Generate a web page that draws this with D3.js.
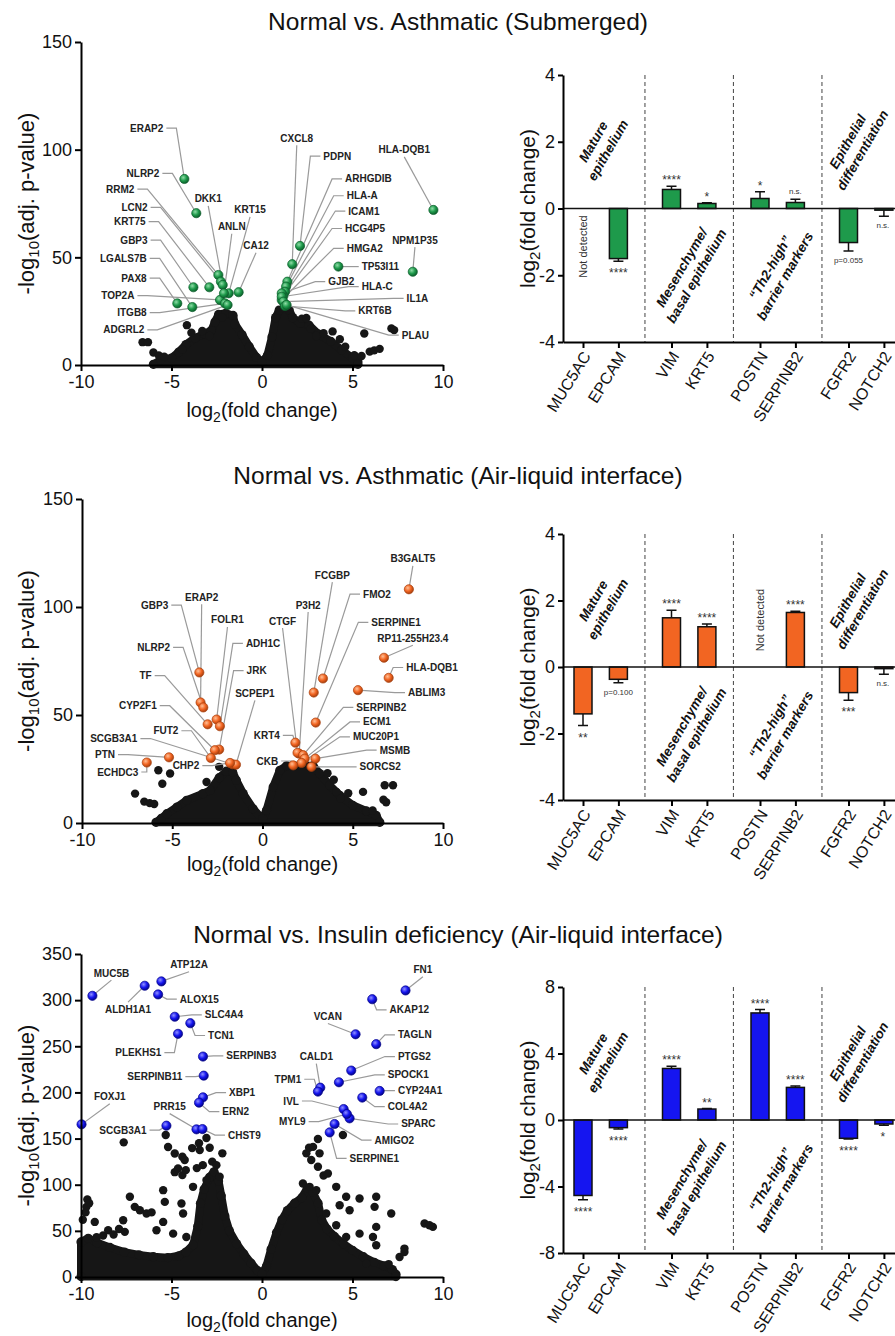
<!DOCTYPE html>
<html>
<head>
<meta charset="utf-8">
<title>Normal vs. asthmatic / insulin deficiency</title>
<script src="https://cdn.jsdelivr.net/npm/d3@7"></script>
<style>
  body { margin: 0; background: #fff; }
  svg { display: block; font-family: "Liberation Sans", Arial, Helvetica, sans-serif; }
</style>
</head>
<body>
<svg id="fig" width="895" height="1336"></svg>
<script>
// ---------- values ----------
var panelTitles = ["Normal vs. Asthmatic (Submerged)",
                   "Normal vs. Asthmatic (Air-liquid interface)",
                   "Normal vs. Insulin deficiency (Air-liquid interface)"];

var volcanoXTicks = [-10, -5, 0, 5, 10];
var volcanoYTicksA = [0, 50, 100, 150];
var volcanoYTicksB = [0, 50, 100, 150, 200, 250, 300, 350];
var barTicksA = [-4, -2, 0, 2, 4];
var barTicksB = [-8, -4, 0, 4, 8];

var categories = ["MUC5AC", "EPCAM", "VIM", "KRT5", "POSTN", "SERPINB2", "FGFR2", "NOTCH2"];
var catGroup = [0, 0, 1, 1, 2, 2, 3, 3];
var groupNames = [["Mature", "epithelium"], ["Mesenchyme/", "basal epithelium"],
                  ["\u201cTh2-high\u201d", "barrier markers"], ["Epithelial", "differentiation"]];

// bar panels: log2 fold change, error, annotation
var subFold = [null, -1.50, 0.57, 0.15, 0.30, 0.18, -1.02, -0.05];
var subErr  = [0, 0.08, 0.10, 0.02, 0.20, 0.10, 0.25, 0.18];
var subSig  = ["Not detected", "****", "****", "*", "*", "n.s.", "p=0.055", "n.s."];

var aliFold = [-1.41, -0.37, 1.48, 1.21, null, 1.64, -0.77, -0.05];
var aliErr  = [0.35, 0.10, 0.23, 0.08, 0, 0.04, 0.23, 0.17];
var aliSig  = ["**", "p=0.100", "****", "****", "Not detected", "****", "***", "n.s."];

var insFold = [-4.54, -0.46, 3.10, 0.66, 6.44, 1.96, -1.10, -0.24];
var insErr  = [0.26, 0.08, 0.14, 0.03, 0.20, 0.08, 0.04, 0.08];
var insSig  = ["****", "****", "****", "**", "****", "****", "****", "*"];

// volcano 1 (submerged): dense core outline, loose dots, highlighted genes
var subCore = [[-6.0,0.3],[-5.6,2.3],[-5.0,3.2],[-4.6,6],[-4.2,9.5],[-3.7,12.5],[-3.2,14.5],[-2.8,16],[-2.6,20],
  [-2.4,23.5],[-2.0,24],[-1.6,23],[-1.5,19],[-1.1,14],[-0.7,8.5],[-0.3,3.5],[0,1.2],[0.3,4.5],[0.55,13],[0.75,22],
  [0.95,25.5],[1.5,25.5],[1.7,22],[2.1,19.5],[2.6,18.5],[3.1,14.5],[3.8,11],[4.4,7],[5.0,3.2],[5.3,1.5],[5.3,0.3]];
var subDots = [[-6.6,10.6],[-6.3,10.6],[-6.0,5.8],[-5.7,4.4],[-5.4,3.8],[-4.4,7.2],[-4.15,18.5],[-3.9,15],[-3.3,15.8],
  [-2.9,13.5],[-2.2,22.2],[2.2,21.5],[2.45,21.8],[2.7,16.8],[3.0,13.5],[3.4,14.8],[3.9,15.6],[4.3,12],[4.6,8.5],
  [5.1,4.5],[5.5,4.2],[5.65,14.6],[5.95,6.2],[6.2,6.8],[6.5,7.5],[7.15,17],[7.3,16.2]];
var subGenes = [["ERAP2",-4.29,86.4],["NLRP2",-3.63,70.5],["RRM2",-2.41,41.8],["LCN2",-2.27,38.7],["KRT75",-2.91,36.1],
  ["GBP3",-3.79,36.1],["LGALS7B",-3.85,26.9],["PAX8",-4.68,28.6],["TOP2A",-2.32,30.2],["ITGB8",-2.04,28.6],
  ["ADGRL2",-1.9,27.9],["DKK1",-2.17,37.2],["KRT15",-1.84,33.3],["ANLN",-2.1,33.3],["CA12",-1.29,33.8],
  ["CXCL8",1.67,46.8],["PDPN",2.1,55.3],["ARHGDIB",1.4,38.7],["HLA-A",1.33,36.4],["ICAM1",1.27,34],
  ["HCG4P5",1.18,32],["HMGA2",1.09,30.2],["TP53I11",4.22,45.7],["NPM1P35",8.33,43.3],["HLA-DQB1",9.47,72],
  ["GJB2",1.09,33.3],["HLA-C",1.09,31.7],["IL1A",1.18,29.4],["KRT6B",1.27,27.4],["PLAU",1.36,27.9]];
var subLabels = [[-5.45,110,"l"],[-5.67,89,"l"],[-7.05,81.7,"l"],[-6.32,73.2,"l"],[-6.43,66.6,"l"],
  [-6.32,58,"l"],[-6.37,49.5,"l"],[-6.37,40.3,"l"],[-7.05,32.2,"l"],[-6.37,24.3,"l"],
  [-6.5,16.3,"l"],[-2.97,77.1,"c"],[-0.66,72,"c"],[-1.67,64.2,"c"],[-0.33,55.4,"c"],
  [1.92,105.3,"c"],[3.39,97,"r"],[4.59,86.4,"r"],[4.68,78.6,"r"],[4.77,71.5,"r"],
  [4.59,63.4,"r"],[4.68,54.2,"r"],[5.51,45.7,"r"],[8.45,58,"c"],[7.86,99.9,"c"],
  [3.66,38.7,"r"],[5.51,36.4,"r"],[7.99,30.9,"r"],[5.32,25.1,"r"],[7.72,13.9,"r"]];

// volcano 2 (air-liquid interface, asthmatic)
var aliCore = [[-5.9,0.3],[-5.6,2.2],[-5.3,4.3],[-4.74,7.4],[-4.2,10.5],[-3.3,13.6],[-2.9,15.1],[-2.4,21],[-2.0,24],
  [-1.65,23.5],[-1.45,19.8],[-1.07,13.6],[-0.52,6.6],[0,1.8],[0.22,5.9],[0.59,16.7],[0.96,24.4],[1.33,26.5],
  [2.8,26.5],[3.17,22.9],[3.72,17.5],[4.28,12.8],[5.0,8.2],[5.75,5.6],[6.3,3.5],[6.5,0.3]];
var aliDots = [[-7.06,13.6],[-6.55,9.9],[-6.25,9.2],[-6.0,8.8],[-5.77,24.4],[-5.55,18.2],[-5.12,22.9],[-3.1,19],
  [-2.4,26],[3.6,23],[3.95,20],[4.1,14.4],[4.33,11.3],[4.75,13.8],[5.57,14.4],[5.75,5.4],[6.1,5.8],
  [6.77,17.5],[7.23,17.5],[6.7,10.8],[6.85,9.6]];
var aliGenes = [["GBP3",-3.5,69.7],["ERAP2",-3.43,55.8],["NLRP2",-3.28,53.5],["TF",-3.04,45.7],["FOLR1",-2.54,47.9],
  ["ADH1C",-2.36,44.8],["JRK",-2.4,34],["CYP2F1",-2.64,33.7],["FUT2",-2.86,30.1],["SCGB3A1",-1.66,27.2],
  ["PTN",-5.18,30.4],["ECHDC3",-6.41,28],["SCPEP1",-1.47,27],["CHP2",-1.8,27.8],
  ["B3GALT5",8.11,108.2],["FCGBP",2.84,60.4],["FMO2",3.35,66.9],["P3H2",2.03,32.1],["CTGF",1.94,32.5],
  ["SERPINE1",2.95,46.5],["RP11-255H23.4",6.73,76.5],["HLA-DQB1",6.99,67.2],["ABLIM3",5.29,61.5],
  ["SERPINB2",2.25,31.4],["ECM1",2.34,29.8],["MUC20P1",2.16,27.8],["MSMB",2.93,29.8],["KRT4",1.82,37.2],
  ["CKB",1.7,26.7],["SORCS2",2.71,26]];
var aliLabels = [[-5.22,100.9,"l"],[-3.37,104.5,"c"],[-5.12,81.3,"l"],[-6.14,68.2,"l"],[-1.94,94,"c"],
  [-0.92,83.2,"r"],[-0.88,70.5,"r"],[-5.86,54.3,"l"],[-4.66,42.7,"l"],[-6.93,39.1,"l"],
  [-8.17,31.7,"l"],[-6.88,23.6,"l"],[-0.42,60,"c"],[-3.5,26.6,"l"],
  [8.33,122.3,"c"],[3.87,114.8,"c"],[5.57,106,"r"],[2.53,100.9,"c"],[1.11,93.5,"c"],
  [6.03,92.9,"r"],[8.33,85.5,"c"],[7.96,72,"r"],[8.06,60.4,"r"],
  [5.2,53.5,"r"],[5.57,46.8,"r"],[5.01,39.9,"r"],[6.49,33.7,"r"],[0.96,40.6,"l"],
  [0.87,28.7,"l"],[5.38,26,"r"]];

// volcano 3 (insulin deficiency)
var insCore = [[-10,0.5],[-10,38],[-9.6,42],[-9.1,37],[-8.4,32],[-7.6,27],[-6.8,24],[-6.0,22],[-5.2,21],[-4.6,23],
  [-4.2,27],[-3.8,35],[-3.55,55],[-3.4,80],[-3.2,95],[-2.9,108],[-2.65,114],[-2.4,104],[-2.25,88],[-2.05,66],
  [-1.8,50],[-1.4,36],[-1.0,25],[-0.6,15],[-0.25,7],[0,3.5],[0.25,12],[0.5,30],[0.8,48],[1.1,62],[1.4,72],
  [1.8,80],[2.2,86],[2.5,96],[2.8,92],[3.1,80],[3.3,62],[3.6,52],[4.0,44],[4.5,36],[5.0,29],[5.6,22],[6.2,16],
  [6.8,12],[7.2,8],[7.4,3],[7.4,0.5]];
var insDots = [[-9.9,62],[-9.75,70],[-9.7,76],[-9.65,84],[-9.55,80],[-9.24,59.7],[-9.14,43],[-8.78,45],[-8.5,50.7],
  [-8.2,46],[-7.9,52],[-7.67,61.5],[-7.58,48.9],[-7.64,145.9],[-7.3,86.9],[-7.03,76],[-6.75,72.4],[-6.38,68.8],
  [-6.1,70],[-5.83,50.7],[-5.46,59.7],[-5.37,81.4],[-5.46,94.1],[-5.32,153.8],[-5.19,140.8],[-4.91,47],
  [-4.82,133.9],[-4.82,113.6],[-4.64,117.6],[-4.45,79.6],[-4.4,130.3],[-4.4,110.4],[-4.36,68.8],[-4.27,126.7],
  [-4.21,115.8],[-4.18,43.4],[-3.86,139.7],[-3.81,97.7],[-3.6,118],[-3.48,145],[-3.44,137.5],[-3.27,121.2],
  [-3.07,150.6],[-3.07,105],[-2.89,140],[-2.75,125],[-2.52,121.2],[-2.34,108.6],[-2.19,134],
  [2.26,101.3],[2.45,134],[2.6,140],[2.63,97.7],[2.72,126.7],[2.82,141],[3.0,94],[3.09,119.4],[3.09,149.5],
  [3.18,134],[3.4,110],[3.55,68.8],[3.64,112.2],[4.1,97.7],[4.1,56.1],[4.29,77.8],[4.47,153.8],[4.65,86.9],
  [4.65,43.4],[4.84,72.4],[5.39,85],[5.39,47],[5.76,14.5],[6.13,43.4],[6.22,76],[6.31,86.9],[6.31,54.3],
  [6.31,34.4],[6.7,12],[7.0,14],[7.14,68.8],[7.6,21.7],[7.87,27.1],[7.87,30.8],[8.98,57.9],[9.25,56.1],[9.44,54.3]];
var insGenes = [["MUC5B",-9.37,304.7],["ATP12A",-5.56,320.3],["ALDH1A1",-6.48,315.6],["ALOX15",-5.74,306.2],
  ["SLC4A4",-4.82,282],["TCN1",-3.96,275],["PLEKHS1",-4.64,263.5],["SERPINB3",-3.26,238.9],
  ["SERPINB11",-3.22,218.2],["XBP1",-3.26,194.7],["ERN2",-3.48,188.9],["PRR15",-3.62,160],["CHST9",-3.29,160.3],
  ["SCGB3A1",-5.28,164],["FOXJ1",-9.97,165.4],
  ["FN1",7.93,310.5],["AKAP12",6.09,301],["VCAN",5.17,263],["TAGLN",6.31,252.3],["PTGS2",4.93,223.7],
  ["SPOCK1",4.25,211],["CALD1",3.22,205.2],["TPM1",3.09,200.9],["CYP24A1",6.5,201.6],["COL4A2",5.54,194.4],
  ["IVL",4.51,182],["SPARC",4.84,171.9],["MYL9",4.69,176.6],["AMIGO2",4.01,165.8],["SERPINE1",3.74,156.7]];
var insLabels = [[-8.32,329.3,"c"],[-4.03,338.4,"c"],[-7.4,290.3,"b"],[-4.54,301.1,"r"],
  [-3.16,284.1,"r"],[-2.98,261.7,"r"],[-5.56,243.2,"l"],[-1.97,239.6,"r"],
  [-4.4,217.2,"l"],[-1.82,199.8,"r"],[-2.19,179.2,"r"],[-5.1,184.6,"c"],[-1.88,153.8,"r"],
  [-6.38,159.2,"l"],[-8.41,195.4,"c"],
  [8.89,333,"c"],[7.05,289.5,"r"],[3.64,282.3,"c"],[7.51,262.4,"r"],[7.51,238.9,"r"],
  [6.95,219,"r"],[3.0,238.9,"c"],[2.17,214.3,"l"],[7.51,202,"r"],[6.95,184.6,"r"],
  [2.04,190.7,"l"],[7.69,165.8,"r"],[2.41,168.3,"l"],[6.22,148.4,"r"],[4.84,128.5,"r"]];

// ---------- layout ----------
var palette = {
  green:  ["#1e9a4b", "#8fdca6", "#0d5f2c"],
  orange: ["#f26522", "#ffc096", "#a8400e"],
  blue:   ["#1515f0", "#9090ff", "#05058a"]
};
var panels = [
  {title: panelTitles[0], ty: 30, color: "green",
   vol: {left: 81, right: 443, top: 42, bottom: 365, yMax: 150, ticks: volcanoYTicksA, xTitleY: 417,
         core: subCore, dots: subDots, genes: subGenes, labels: subLabels},
   bar: {top: 75, bottom: 342, lim: 4, ticks: barTicksA, fold: subFold, err: subErr, sig: subSig, ndBelow: true}},
  {title: panelTitles[1], ty: 484, color: "orange",
   vol: {left: 82, right: 443, top: 499, bottom: 823, yMax: 150, ticks: volcanoYTicksA, xTitleY: 871,
         core: aliCore, dots: aliDots, genes: aliGenes, labels: aliLabels},
   bar: {top: 534, bottom: 800, lim: 4, ticks: barTicksA, fold: aliFold, err: aliErr, sig: aliSig, ndBelow: false}},
  {title: panelTitles[2], ty: 943, color: "blue",
   vol: {left: 81, right: 443, top: 954, bottom: 1277, yMax: 350, ticks: volcanoYTicksB, xTitleY: 1327,
         core: insCore, dots: insDots, genes: insGenes, labels: insLabels},
   bar: {top: 987, bottom: 1253, lim: 8, ticks: barTicksB, fold: insFold, err: insErr, sig: insSig, ndBelow: true}}
];

var svg = d3.select("#fig");
var defs = svg.append("defs");
Object.keys(palette).forEach(function (k) {
  var c = palette[k];
  var rg = defs.append("radialGradient").attr("id", "pt-" + k)
    .attr("cx", "38%").attr("cy", "35%").attr("r", "65%");
  rg.append("stop").attr("offset", "0%").attr("stop-color", c[1]);
  rg.append("stop").attr("offset", "55%").attr("stop-color", c[0]);
  rg.append("stop").attr("offset", "100%").attr("stop-color", c[2]);
});

function styleAxis(sel, size) {
  sel.attr("font-family", null).attr("font-size", size);
  sel.select(".domain").attr("stroke-width", 2);
  sel.selectAll(".tick line").attr("stroke-width", 2);
  sel.selectAll(".tick text").attr("fill", "#111");
}

function leaderPath(px, py, lx, ly, side) {
  var ex;
  if (side === "l") {
    ex = Math.min(lx + 13, Math.max(px, lx + 7));
    return "M" + (lx + 3) + "," + ly + "H" + ex + "L" + px + "," + py;
  }
  if (side === "r") {
    ex = Math.max(lx - 13, Math.min(px, lx - 7));
    return "M" + (lx - 3) + "," + ly + "H" + ex + "L" + px + "," + py;
  }
  if (side === "c") return "M" + lx + "," + (ly + 7) + "L" + px + "," + py;
  return "M" + lx + "," + (ly - 7) + "L" + px + "," + py;
}

function drawVolcano(g, v, color) {
  var x = d3.scaleLinear().domain([-10, 10]).range([v.left, v.right]);
  var y = d3.scaleLinear().domain([0, v.yMax]).range([v.bottom, v.top]);

  g.append("path").datum(v.core)
    .attr("d", d3.line().x(function (d) { return x(d[0]); }).y(function (d) { return y(d[1]); }).curve(d3.curveLinearClosed))
    .attr("fill", "#161616").attr("stroke", "#161616").attr("stroke-width", 8).attr("stroke-linejoin", "round");
  // outline points as dots so the mass edge looks dotted
  g.selectAll("circle.edge").data(v.core).join("circle").attr("class", "edge")
    .attr("cx", function (d) { return x(d[0]); }).attr("cy", function (d) { return y(d[1]); })
    .attr("r", 4.6).attr("fill", "#161616");

  g.selectAll("circle.bg").data(v.dots).join("circle").attr("class", "bg")
    .attr("cx", function (d) { return x(d[0]); }).attr("cy", function (d) { return y(d[1]); })
    .attr("r", 4.2).attr("fill", "#161616");

  g.selectAll("path.leader").data(v.genes).join("path").attr("class", "leader")
    .attr("d", function (d, i) {
      var l = v.labels[i];
      return leaderPath(x(d[1]), y(d[2]), x(l[0]), y(l[1]), l[2]);
    })
    .attr("fill", "none").attr("stroke", "#9a9a9a").attr("stroke-width", 1.2);

  g.selectAll("circle.hit").data(v.genes).join("circle").attr("class", "hit")
    .attr("cx", function (d) { return x(d[1]); }).attr("cy", function (d) { return y(d[2]); })
    .attr("r", 4.6).attr("fill", "url(#pt-" + color + ")")
    .attr("stroke", palette[color][2]).attr("stroke-width", 0.7);

  g.selectAll("text.gene").data(v.genes).join("text").attr("class", "gene")
    .attr("x", function (d, i) { return x(v.labels[i][0]); })
    .attr("y", function (d, i) { return y(v.labels[i][1]); })
    .attr("dy", "0.35em")
    .attr("text-anchor", function (d, i) {
      var s = v.labels[i][2];
      return s === "l" ? "end" : (s === "r" ? "start" : "middle");
    })
    .attr("font-size", 10).attr("font-weight", "bold").attr("fill", "#222")
    .text(function (d) { return d[0]; });

  var ax = g.append("g").attr("transform", "translate(0," + v.bottom + ")")
    .call(d3.axisBottom(x).tickValues(volcanoXTicks).tickSize(6).tickSizeOuter(0).tickPadding(4)
      .tickFormat(function (d) { return String(d); }));
  styleAxis(ax, 18);
  var ay = g.append("g").attr("transform", "translate(" + v.left + ",0)")
    .call(d3.axisLeft(y).tickValues(v.ticks).tickSize(6).tickSizeOuter(0).tickPadding(3)
      .tickFormat(function (d) { return String(d); }));
  styleAxis(ay, 18);

  var xt = g.append("text").attr("x", (v.left + v.right) / 2).attr("y", v.xTitleY)
    .attr("text-anchor", "middle").attr("font-size", 20).attr("fill", "#111");
  xt.append("tspan").text("log");
  xt.append("tspan").attr("font-size", 14).attr("dy", 5).text("2");
  xt.append("tspan").attr("dy", -5).text("(fold change)");

  var yt = g.append("text").attr("transform", "translate(34," + (v.top + v.bottom) / 2 + ") rotate(-90)")
    .attr("text-anchor", "middle").attr("font-size", 22).attr("fill", "#111");
  yt.append("tspan").text("-log");
  yt.append("tspan").attr("font-size", 15).attr("dy", 5).text("10");
  yt.append("tspan").attr("dy", -5).text("(adj. p-value)");
}

function drawBars(g, b, color) {
  var step = 35.4;
  var xs = d3.scaleLinear().domain([-0.565, 9.6]).range([563, 563 + 10.165 * step]);
  var y = d3.scaleLinear().domain([-b.lim, b.lim]).range([b.bottom, b.top]);
  var slot = function (i) { return i + 0.5 * catGroup[i]; };
  var bw = 18;
  var x0 = xs.range()[0], x1 = xs.range()[1];

  // group separators
  for (var i = 1; i < categories.length; i++) {
    if (catGroup[i] !== catGroup[i - 1]) {
      var sx = xs((slot(i) + slot(i - 1)) / 2);
      g.append("line").attr("x1", sx).attr("x2", sx).attr("y1", y(b.lim)).attr("y2", y(-b.lim))
        .attr("stroke", "#555").attr("stroke-width", 1.1).attr("stroke-dasharray", "4,3");
    }
  }

  var idx = d3.range(categories.length).filter(function (i) { return b.fold[i] !== null; });
  g.selectAll("rect.bar").data(idx).join("rect").attr("class", "bar")
    .attr("x", function (i) { return xs(slot(i)) - bw / 2; })
    .attr("y", function (i) { return y(Math.max(0, b.fold[i])); })
    .attr("width", bw)
    .attr("height", function (i) { return Math.abs(y(b.fold[i]) - y(0)); })
    .attr("fill", palette[color][0]).attr("stroke", "#111").attr("stroke-width", 1.5);

  // error bars
  idx.forEach(function (i) {
    var v = b.fold[i], e = b.err[i], s = v >= 0 ? 1 : -1;
    var cx = xs(slot(i));
    g.append("path")
      .attr("d", "M" + cx + "," + y(v) + "V" + y(v + s * e) + "M" + (cx - 5) + "," + y(v + s * e) + "H" + (cx + 5))
      .attr("stroke", "#111").attr("stroke-width", 1.5).attr("fill", "none");
  });

  // significance / notes
  d3.range(categories.length).forEach(function (i) {
    var cx = xs(slot(i)), txt = b.sig[i], v = b.fold[i];
    if (v === null) {
      var cy = b.ndBelow ? y(0) + 38 : y(0) - 47;
      g.append("text").attr("transform", "translate(" + (cx + 4) + "," + cy + ") rotate(-90)")
        .attr("text-anchor", "middle").attr("font-size", 11).attr("fill", "#333").text(txt);
      return;
    }
    var end = y(v + (v >= 0 ? 1 : -1) * b.err[i]);
    var stars = /^\*+$/.test(txt);
    var ty = stars ? (v >= 0 ? end - 2 : end + 16) : (v >= 0 ? end - 5 : end + 12);
    g.append("text").attr("x", i === categories.length - 1 ? cx - 1 : cx).attr("y", ty).attr("text-anchor", "middle")
      .attr("font-size", stars ? 12 : 8).attr("fill", "#333").text(txt);
  });

  // zero line
  g.append("line").attr("x1", x0).attr("x2", x1).attr("y1", y(0)).attr("y2", y(0))
    .attr("stroke", "#111").attr("stroke-width", 1.6);

  // group labels
  d3.range(groupNames.length).forEach(function (k) {
    var members = d3.range(categories.length).filter(function (i) { return catGroup[i] === k; });
    var gx = xs(d3.mean(members, slot)) - (k === 3 ? 11 : 0);
    var below = k === 1 || k === 2;
    var gy = below ? b.top + 197 : b.top + 71;
    var t = g.append("text").attr("transform", "translate(" + gx + "," + gy + ") rotate(-60)")
      .attr("text-anchor", "middle").attr("font-size", 13.5).attr("font-weight", "bold")
      .attr("font-style", "italic").attr("fill", "#111");
    t.append("tspan").attr("x", 0).attr("y", -4).text(groupNames[k][0]);
    t.append("tspan").attr("x", 0).attr("y", 13).text(groupNames[k][1]);
  });

  var ay = g.append("g").attr("transform", "translate(563,0)")
    .call(d3.axisLeft(y).tickValues(b.ticks).tickSize(5).tickSizeOuter(0).tickPadding(3)
      .tickFormat(function (d) { return String(d); }));
  styleAxis(ay, 18);

  var ax = g.append("g").attr("transform", "translate(0," + b.bottom + ")")
    .call(d3.axisBottom(xs).tickValues(d3.range(categories.length).map(slot)).tickSize(6).tickSizeOuter(0)
      .tickFormat(function (d, i) { return categories[i]; }));
  styleAxis(ax, 16);
  ax.selectAll(".tick text").attr("x", null).attr("y", null).attr("dy", "0.35em")
    .attr("transform", "translate(3,11) rotate(-58)").style("text-anchor", "end");

  var yt = g.append("text").attr("transform", "translate(535," + y(0) + ") rotate(-90)")
    .attr("text-anchor", "middle").attr("font-size", 21).attr("fill", "#111");
  yt.append("tspan").text("log");
  yt.append("tspan").attr("font-size", 15).attr("dy", 5).text("2");
  yt.append("tspan").attr("dy", -5).text("(fold change)");
}

panels.forEach(function (p) {
  svg.append("text").attr("x", 458).attr("y", p.ty).attr("text-anchor", "middle")
    .attr("font-size", 24.5).attr("fill", "#111").text(p.title);
  drawVolcano(svg.append("g"), p.vol, p.color);
  drawBars(svg.append("g"), p.bar, p.color);
});
</script>
</body>
</html>
